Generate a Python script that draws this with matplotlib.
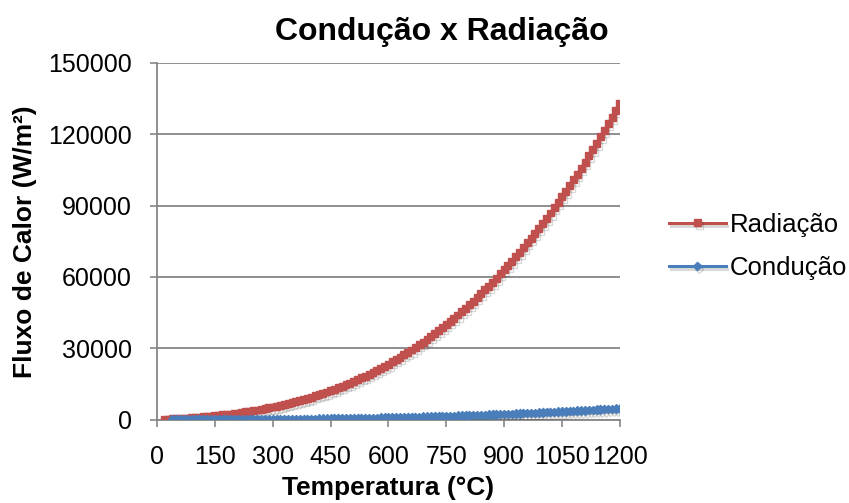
import matplotlib.pyplot as plt
import matplotlib.patheffects as pe

# Temperatura (°C)
temp_rad = [20, 30, 40, 50, 60, 70, 80, 90, 100, 110, 120, 130, 140, 150, 160, 170, 180, 190, 200,
            210, 220, 230, 240, 250, 260, 270, 280, 290, 300, 310, 320, 330, 340, 350, 360, 370, 380,
            390, 400, 410, 420, 430, 440, 450, 460, 470, 480, 490, 500, 510, 520, 530, 540, 550, 560,
            570, 580, 590, 600, 610, 620, 630, 640, 650, 660, 670, 680, 690, 700, 710, 720, 730, 740,
            750, 760, 770, 780, 790, 800, 810, 820, 830, 840, 850, 860, 870, 880, 890, 900, 910, 920,
            930, 940, 950, 960, 970, 980, 990, 1000, 1010, 1020, 1030, 1040, 1050, 1060, 1070, 1080,
            1090, 1100, 1110, 1120, 1130, 1140, 1150, 1160, 1170, 1180, 1190, 1200]
radiacao = [127, 199, 275, 358, 447, 542, 643, 752, 869, 993, 1125, 1265, 1415, 1573, 1741, 1918,
            2105, 2303, 2511, 2731, 2961, 3204, 3458, 3724, 4004, 4296, 4601, 4920, 5253, 5600, 5962,
            6338, 6730, 7137, 7560, 8000, 8456, 8928, 9418, 9926, 10451, 10994, 11556, 12136, 12736,
            13355, 13994, 14653, 15333, 16033, 16754, 17496, 18261, 19047, 19856, 20687, 21541, 22419,
            23321, 24246, 25196, 26170, 27169, 28194, 29244, 30320, 31423, 32552, 33707, 34890, 36101,
            37340, 38607, 39902, 41226, 42579, 43962, 45375, 46818, 48291, 49795, 51331, 52897, 54496,
            56127, 57791, 59486, 61215, 62978, 64774, 66603, 68468, 70367, 72302, 74271, 76277, 78318,
            80396, 82510, 84662, 86850, 89076, 91340, 93643, 95984, 98365, 100783, 103243, 105742,
            108281, 110860, 113481, 116142, 118847, 121591, 124379, 127208, 130081, 132996]

temp_cond = temp_rad[2:]
conducao = [1, 2, 3, 4, 5, 7, 9, 12, 15, 18, 22, 26, 31, 36, 41, 47, 53, 60, 68, 76, 84, 93, 103,
            113, 124, 135, 147, 159, 173, 186, 201, 216, 232, 248, 265, 283, 302, 321, 341, 361, 383,
            405, 428, 451, 476, 501, 527, 553, 581, 609, 639, 668, 699, 731, 763, 797, 831, 866, 902,
            939, 976, 1015, 1054, 1095, 1136, 1178, 1222, 1266, 1311, 1357, 1404, 1451, 1500, 1550,
            1601, 1653, 1706, 1759, 1814, 1870, 1927, 1985, 2044, 2104, 2165, 2227, 2290, 2354, 2419,
            2485, 2552, 2621, 2690, 2761, 2833, 2906, 2980, 3055, 3131, 3208, 3286, 3366, 3447, 3529,
            3612, 3696, 3781, 3868, 3955, 4044, 4134, 4226, 4318, 4412, 4507, 4603, 4700]

x_ticks = [0, 150, 300, 450, 600, 750, 900, 1050, 1200]
y_ticks = [0, 30000, 60000, 90000, 120000, 150000]

plt.rcParams['font.family'] = ['Liberation Sans', 'DejaVu Sans']

fig = plt.figure(figsize=(8.49, 5.03), dpi=100)
ax = fig.add_axes([0.185, 0.166, 0.545, 0.709])

# sombra suave por baixo das linhas, como no Excel
sombra = [pe.SimpleLineShadow(offset=(1.2, -2.2), shadow_color='black', alpha=0.15), pe.Normal()]
ax.plot(temp_rad, radiacao, color='#C0504D', lw=2.2, marker='s', ms=5, mec='#C0504D',
        label='Radiação', path_effects=sombra, zorder=3)
ax.plot(temp_cond, conducao, color='#4A7EBB', lw=2.2, marker='D', ms=4.3, mec='#4A7EBB',
        label='Condução', path_effects=sombra, zorder=4)

ax.set_xlim(0, 1200)
ax.set_ylim(0, 150000)
ax.set_xticks(x_ticks)
ax.set_yticks(y_ticks)
ax.tick_params(labelsize=18, colors='#868686', labelcolor='black', length=5, width=1.2, pad=13)
ax.grid(axis='y', color='#868686', lw=1.3)
ax.set_axisbelow(True)
for s in ['top', 'right']:
    ax.spines[s].set_visible(False)
for s in ['left', 'bottom']:
    ax.spines[s].set_color('#868686')
    ax.spines[s].set_linewidth(1.3)

fig.text(0.5206, 0.9205, 'Condução x Radiação', fontsize=23, fontweight='bold',
         ha='center', va='baseline')
fig.text(0.457, 0.016, 'Temperatura (°C)', fontsize=19, fontweight='bold',
         ha='center', va='baseline')
fig.text(0.029, 0.5195, 'Fluxo de Calor (W/m²)', fontsize=19, fontweight='bold',
         ha='center', va='center', rotation=90)

fig.legend(loc='center left', bbox_to_anchor=(0.761, 0.51), frameon=False, fontsize=18.5,
           handlelength=2.2, handletextpad=0.15, labelspacing=0.75, numpoints=1)

fig.savefig('out.png', dpi=100)
